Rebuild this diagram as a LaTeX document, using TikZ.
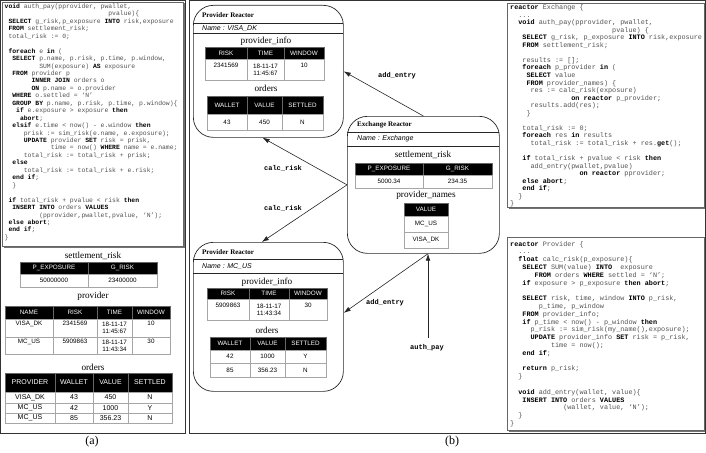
\documentclass[tikz,border=0pt]{standalone}
\usepackage{fontspec}
\setmainfont{Liberation Serif}
\setsansfont{Liberation Sans}
\setmonofont{Liberation Mono}
\usetikzlibrary{arrows.meta,calc}

\tikzset{
 panelframe/.style={draw=black!80, line width=0.6pt},
 codebox/.style={draw=black!60, fill=white, line width=0.5pt},
 codeshadow/.style={fill=black!55},
 codetext/.style={anchor=north west, inner sep=0, align=left, text=black!68},
 rbox/.style={draw=black!85, line width=0.7pt, rounded corners=20pt, inner sep=0, anchor=north west},
 rsep/.style={draw=black!85, line width=0.5pt},
 rtitle/.style={font=\bfseries\fontsize{7}{8}\selectfont, anchor=west, inner sep=0},
 rname/.style={font=\sffamily\itshape\fontsize{7}{8}\selectfont, anchor=west, inner sep=0},
 ttl/.style={font=\fontsize{9.2}{10}\selectfont, inner sep=0},
 cellbase/.style={draw=black!35, line width=0.5pt, inner sep=0, outer sep=0, align=center, font=\sffamily\fontsize{6.3}{7}\selectfont},
 hdc/.style={fill=black, text=white, draw=black!60},
 bigcell/.style={font=\sffamily\fontsize{7}{8}\selectfont},
 arr/.style={-{Latex[length=7pt,width=4.6pt]}, line width=0.6pt, draw=black!85},
 elbl/.style={font=\ttfamily\bfseries\fontsize{7}{8}\selectfont, inner sep=1pt},
 captxt/.style={font=\fontsize{12}{13}\selectfont, inner sep=0},
}

\newcommand\kw[1]{{\color{black}\bfseries #1}}
\newcommand\tcell[7][]{%
 \pgfmathsetmacro\tcx{(#3+#5)/2}%
 \pgfmathsetmacro\tcy{(#4+#6)/2}%
 \pgfmathsetmacro\tcw{#5-#3}%
 \pgfmathsetmacro\tch{#6-#4}%
 \node[cellbase,minimum width=\tcw pt,minimum height=\tch pt,#1] (#2) at (\tcx,\tcy) {#7};}

\begin{document}
\begin{tikzpicture}[x=1pt,y=-1pt]
\useasboundingbox (0,0) rectangle (706,452);

% panel frames
\draw[panelframe] (0.5,0.5) rectangle (185,433);
\draw[panelframe] (189.5,0.5) rectangle (705.5,433);

% ---------------- (a) code ----------------
\fill[codeshadow] (3.5,3.5) rectangle (184.5,247.5);
\draw[codebox] (2,2) rectangle (183,246);
\node[codetext, font=\ttfamily\fontsize{6.4}{7.45}\selectfont] (codeA) at (4.5,3.6) {%
\kw{void} auth\_pay(pprovider, pwallet,\\
~~~~~~~~~~~~~~~~~~~~~~~~~~~pvalue)\{\\
~\kw{SELECT} g\_risk,p\_exposure \kw{INTO} risk,exposure\\
~\kw{FROM} settlement\_risk;\\
~total\_risk := 0;\\
~\\
~\kw{foreach} e \kw{in} (\\
~~\kw{SELECT} p.name, p.risk, p.time, p.window,\\
~~~~~~~~~SUM(exposure) \kw{AS} exposure\\
~~\kw{FROM} provider p\\
~~~~~~~\kw{INNER JOIN} orders o\\
~~~~~~~\kw{ON} p.name = o.provider\\
~~\kw{WHERE} o.settled = ‘N’\\
~~\kw{GROUP BY} p.name, p.risk, p.time, p.window)\{\\
~~~\kw{if} e.exposure > exposure \kw{then}\\
~~~~\kw{abort};\\
~~\kw{elsif} e.time < now() - e.window \kw{then}\\
~~~~~prisk := sim\_risk(e.name, e.exposure);\\
~~~~~\kw{UPDATE} provider \kw{SET} risk = prisk,\\
~~~~~~~~~~~~time = now() \kw{WHERE} name = e.name;\\
~~~~~total\_risk := total\_risk + prisk;\\
~~\kw{else}\\
~~~~~total\_risk := total\_risk + e.risk;\\
~~\kw{end if};\\
~~\}\\
~\\
~\kw{if} total\_risk + pvalue < risk \kw{then}\\
~~\kw{INSERT INTO} orders \kw{VALUES}\\
~~~~~~~~~(pprovider,pwallet,pvalue, ‘N’);\\
~\kw{else abort};\\
~\kw{end if};\\
\}};

% ---------------- (a) tables ----------------
\node[ttl] (a1t) at (93,256) {settlement\_risk};
\tcell[hdc]{a1h1}{20}{262}{88}{274}{P\_EXPOSURE}
\tcell[hdc]{a1h2}{88}{262}{157}{274}{G\_RISK}
\tcell{a1c1}{20}{274}{88}{287}{50000000}
\tcell{a1c2}{88}{274}{157}{287}{23400000}

\node[ttl] (a2t) at (93,296) {provider};
\tcell[hdc]{a2h1}{5}{306}{53}{319}{NAME}
\tcell[hdc]{a2h2}{53}{306}{97}{319}{RISK}
\tcell[hdc]{a2h3}{97}{306}{132}{319}{TIME}
\tcell[hdc]{a2h4}{132}{306}{170}{319}{WINDOW}
\tcell{a2c11}{5}{319}{53}{337}{VISA\_DK\\\strut}
\tcell{a2c12}{53}{319}{97}{337}{2341569\\\strut}
\tcell{a2c13}{97}{319}{132}{337}{18-11-17\\11:45:67}
\tcell{a2c14}{132}{319}{170}{337}{10\\\strut}
\tcell{a2c21}{5}{337}{53}{354}{MC\_US\\\strut}
\tcell{a2c22}{53}{337}{97}{354}{5909863\\\strut}
\tcell{a2c23}{97}{337}{132}{354}{18-11-17\\11:43:34}
\tcell{a2c24}{132}{337}{170}{354}{30\\\strut}

\node[ttl] (a3t) at (93,367) {orders};
\tcell[hdc,bigcell]{a3h1}{5}{373}{55}{392}{PROVIDER}
\tcell[hdc,bigcell]{a3h2}{55}{373}{93}{392}{WALLET}
\tcell[hdc,bigcell]{a3h3}{93}{373}{128}{392}{VALUE}
\tcell[hdc,bigcell]{a3h4}{128}{373}{172}{392}{SETTLED}
\tcell[bigcell]{a3c11}{5}{392}{55}{403}{VISA\_DK}
\tcell[bigcell]{a3c12}{55}{392}{93}{403}{43}
\tcell[bigcell]{a3c13}{93}{392}{128}{403}{450}
\tcell[bigcell]{a3c14}{128}{392}{172}{403}{N}
\tcell[bigcell]{a3c21}{5}{403}{55}{413}{MC\_US}
\tcell[bigcell]{a3c22}{55}{403}{93}{413}{42}
\tcell[bigcell]{a3c23}{93}{403}{128}{413}{1000}
\tcell[bigcell]{a3c24}{128}{403}{172}{413}{Y}
\tcell[bigcell]{a3c31}{5}{413}{55}{423}{MC\_US}
\tcell[bigcell]{a3c32}{55}{413}{93}{423}{85}
\tcell[bigcell]{a3c33}{93}{413}{128}{423}{356.23}
\tcell[bigcell]{a3c34}{128}{413}{172}{423}{N}

\node[captxt] (capa) at (92,442) {(a)};
\node[captxt] (capb) at (452,442) {(b)};

% ---------------- Provider Reactor VISA_DK ----------------
\node[rbox, minimum width=150pt, minimum height=132pt] (visa) at (193,5) {};
\draw[rsep] (193.3,23) -- (342.7,23);
\draw[rsep] (193,33) -- (343,33);
\node[rtitle] (visaT) at (202,15) {Provider Reactor};
\node[rname] (visaN) at (202,28.5) {Name : VISA\_DK};
\node[ttl] (v1t) at (266,41) {provider\_info};
\tcell[hdc]{v1h1}{205}{47}{247}{59}{RISK}
\tcell[hdc]{v1h2}{247}{47}{284}{59}{TIME}
\tcell[hdc]{v1h3}{284}{47}{324}{59}{WINDOW}
\tcell{v1c1}{205}{59}{247}{80}{2341569\\\strut}
\tcell{v1c2}{247}{59}{284}{80}{18-11-17\\11:45:67}
\tcell{v1c3}{284}{59}{324}{80}{10\\\strut}
\node[ttl] (v2t) at (266,88) {orders};
\tcell[hdc]{v2h1}{207}{96}{247}{114}{WALLET}
\tcell[hdc]{v2h2}{247}{96}{282}{114}{VALUE}
\tcell[hdc]{v2h3}{282}{96}{323}{114}{SETTLED}
\tcell{v2c1}{207}{114}{247}{130}{43}
\tcell{v2c2}{247}{114}{282}{130}{450}
\tcell{v2c3}{282}{114}{323}{130}{N}

% ---------------- Provider Reactor MC_US ----------------
\node[rbox, minimum width=150pt, minimum height=149pt] (mcus) at (193,242) {};
\draw[rsep] (193.3,259) -- (342.7,259);
\draw[rsep] (193,273) -- (343,273);
\node[rtitle] (mcusT) at (202,252) {Provider Reactor};
\node[rname] (mcusN) at (202,266) {Name : MC\_US};
\node[ttl] (m1t) at (267,282) {provider\_info};
\tcell[hdc]{m1h1}{207}{288}{249}{299}{RISK}
\tcell[hdc]{m1h2}{249}{288}{289}{299}{TIME}
\tcell[hdc]{m1h3}{289}{288}{327}{299}{WINDOW}
\tcell{m1c1}{207}{299}{249}{320}{5909863\\\strut}
\tcell{m1c2}{249}{299}{289}{320}{18-11-17\\11:43:34}
\tcell{m1c3}{289}{299}{327}{320}{30\\\strut}
\node[ttl] (m2t) at (267,330) {orders};
\tcell[hdc]{m2h1}{210}{337}{250}{350}{WALLET}
\tcell[hdc]{m2h2}{250}{337}{285}{350}{VALUE}
\tcell[hdc]{m2h3}{285}{337}{326}{350}{SETTLED}
\tcell{m2c11}{210}{350}{250}{363}{42}
\tcell{m2c12}{250}{350}{285}{363}{1000}
\tcell{m2c13}{285}{350}{326}{363}{Y}
\tcell{m2c21}{210}{363}{250}{377}{85}
\tcell{m2c22}{250}{363}{285}{377}{356.23}
\tcell{m2c23}{285}{363}{326}{377}{N}

% ---------------- Exchange Reactor ----------------
\node[rbox, minimum width=152pt, minimum height=137pt] (exch) at (347,116) {};
\draw[rsep] (347.4,132) -- (498.6,132);
\draw[rsep] (347,146) -- (499,146);
\node[rtitle] (exchT) at (357,125) {Exchange Reactor};
\node[rname] (exchN) at (357,139) {Name : Exchange};
\node[ttl] (e1t) at (423,155) {settlement\_risk};
\tcell[hdc]{e1h1}{355}{163}{423}{175}{P\_EXPOSURE}
\tcell[hdc]{e1h2}{423}{163}{492}{175}{G\_RISK}
\tcell{e1c1}{355}{175}{423}{188}{5000.34}
\tcell{e1c2}{423}{175}{492}{188}{234.35}
\node[ttl] (e2t) at (426,195) {provider\_names};
\tcell[hdc]{e2h1}{404}{203}{448}{216}{VALUE}
\tcell{e2c1}{404}{216}{448}{232}{MC\_US}
\tcell{e2c2}{404}{232}{448}{248}{VISA\_DK}

% ---------------- connectors ----------------
\coordinate (authS) at (428,338);
\coordinate (exBot) at (authS |- exch.south);
\draw[arr] (exch.north) -- (visa.east);
\draw[arr] (exch.west) -- (visa.265);
\draw[arr] (exch.west) -- (mcus.95);
\draw[arr] (exBot) -- (mcus.3);
\draw[arr] (authS) -- (exBot);
\node[elbl] (authL) at (427,348) {auth\_pay};
\node[elbl] (l1) at (397,76) {add\_entry};
\node[elbl] (l2) at (283,168) {calc\_risk};
\node[elbl] (l3) at (283,208) {calc\_risk};
\node[elbl] (l4) at (385,303) {add\_entry};

% ---------------- Exchange code ----------------
\fill[codeshadow] (508.5,4.5) rectangle (705,208.5);
\draw[codebox] (507,3) rectangle (704,207);
\node[codetext, font=\ttfamily\fontsize{6.8}{7.55}\selectfont] (codeE) at (510,4.4) {%
\kw{reactor} Exchange \{\\
~~...\\
~~\kw{void} auth\_pay(pprovider, pwallet,\\
~~~~~~~~~~~~~~~~~~~~~~~~~pvalue) \{\\
~~~\kw{SELECT} g\_risk, p\_exposure \kw{INTO} risk,exposure\\
~~~\kw{FROM} settlement\_risk;\\
~\\
~~~results := [];\\
~~~\kw{foreach} p\_provider \kw{in} (\\
~~~~\kw{SELECT} value\\
~~~~\kw{FROM} provider\_names) \{\\
~~~~~res := calc\_risk(exposure)\\
~~~~~~~~~~~~~~~\kw{on reactor} p\_provider;\\
~~~~~results.add(res);\\
~~~~\}\\
~\\
~~~total\_risk := 0;\\
~~~\kw{foreach} res \kw{in} results\\
~~~~~total\_risk := total\_risk + res.\kw{get}();\\
~\\
~~~\kw{if} total\_risk + pvalue < risk \kw{then}\\
~~~~~add\_entry(pwallet,pvalue)\\
~~~~~~~~~~~~~~~~~\kw{on reactor} pprovider;\\
~~~\kw{else abort};\\
~~~\kw{end if};\\
~~\}\\
\}};

% ---------------- Provider code ----------------
\fill[codeshadow] (508.5,238.5) rectangle (705,431.5);
\draw[codebox] (507,237) rectangle (704,430);
\node[codetext, font=\ttfamily\fontsize{6.8}{7.8}\selectfont] (codeP) at (510,240.9) {%
\kw{reactor} Provider \{\\
~~...\\
~~\kw{float} calc\_risk(p\_exposure)\{\\
~~~\kw{SELECT} SUM(value) \kw{INTO}~~exposure\\
~~~~~~\kw{FROM} orders \kw{WHERE} settled = ‘N’;\\
~~~\kw{if} exposure > p\_exposure \kw{then abort};\\
~\\
~~~\kw{SELECT} risk, time, window \kw{INTO} p\_risk,\\
~~~~~~~p\_time, p\_window\\
~~~\kw{FROM} provider\_info;\\
~~~\kw{if} p\_time < now() - p\_window \kw{then}\\
~~~~~p\_risk := sim\_risk(my\_name(),exposure);\\
~~~~~\kw{UPDATE} provider\_info \kw{SET} risk = p\_risk,\\
~~~~~~~~~~time = now();\\
~~~\kw{end if};\\
~\\
~~~\kw{return} p\_risk;\\
~~\}\\
~\\
~~\kw{void} add\_entry(wallet, value)\{\\
~~~\kw{INSERT INTO} orders \kw{VALUES}\\
~~~~~~~~~~~~~(wallet, value, ‘N’);\\
~~\}\\
\}};

\end{tikzpicture}
\end{document}
